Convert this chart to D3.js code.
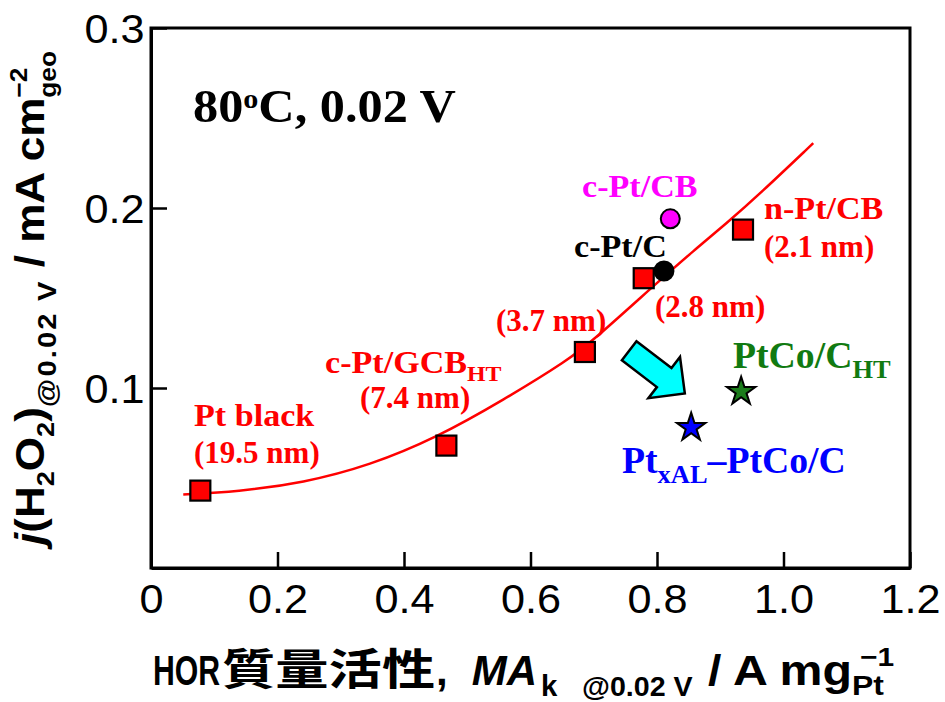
<!DOCTYPE html>
<html>
<head>
<meta charset="utf-8">
<title>H2O2 vs HOR mass activity</title>
<script src="https://d3js.org/d3.v7.min.js"></script>
<style>
  body { margin: 0; background: #fff; }
</style>
</head>
<body>
<div id="chart"></div>
<script>
// squares on the fitted curve (Pt catalysts with particle size)
var sqNames = ["Pt black", "c-Pt/GCB_HT", "3.7 nm", "2.8 nm", "n-Pt/CB"];
var sqMA    = [0.078, 0.467, 0.686, 0.779, 0.936];
var sqH2O2  = [0.043, 0.068, 0.120, 0.161, 0.188];

// circles
var circNames  = ["c-Pt/CB", "c-Pt/C"];
var circMA     = [0.821, 0.811];
var circH2O2   = [0.194, 0.165];
var circColors = ["#ff00ff", "#000000"];

// stars
var starNames  = ["PtCo/C_HT", "Pt_xAL-PtCo/C"];
var starMA     = [0.933, 0.854];
var starH2O2   = [0.098, 0.078];
var starColors = ["#1b7d1b", "#0000ff"];

// red fitted line
var fitMA   = [0.051, 0.136, 0.241, 0.346, 0.452, 0.557, 0.660, 0.700, 0.805, 0.857, 0.910, 0.963, 1.047];
var fitH2O2 = [0.0409, 0.0424, 0.0473, 0.0570, 0.0725, 0.0933, 0.1156, 0.1267, 0.160, 0.176, 0.1915, 0.208, 0.236];

// cyan arrow: tail -> tip
var arrowMA   = [0.756, 0.844];
var arrowH2O2 = [0.1207, 0.097];

var xTicks = [0, 0.2, 0.4, 0.6, 0.8, 1.0, 1.2];
var yTicks = [0.1, 0.2, 0.3];

var W = 945, H = 702;
var pl = 151, pr = 910, pt = 28, pb = 568;
var SANS = "'Liberation Sans', Arial, Helvetica, sans-serif";
var SERIF = "'Liberation Serif', 'Times New Roman', Times, serif";
var CJK = "'Noto Sans CJK JP', 'Noto Sans CJK SC', sans-serif";
var RED = "#ff0000";

var svg = d3.select("#chart").append("svg")
  .attr("width", W).attr("height", H);

var x = d3.scaleLinear().domain([0, 1.2]).range([pl, pr]);
var y = d3.scaleLinear().domain([0, 0.3]).range([pb, pt]);

// text helper with sub / superscripts, horizontal stretch sx
function richText(g, px, py, parts, o) {
  var tf = "translate(" + px + "," + py + ")";
  if (o.rotate) tf += " rotate(" + o.rotate + ")";
  tf += " scale(" + (o.sx || 1) + ",1)";
  var t = g.append("text")
    .attr("transform", tf)
    .attr("font-family", o.family || SERIF)
    .attr("font-weight", o.weight || "bold")
    .attr("font-size", o.size)
    .attr("fill", o.fill || "#000")
    .attr("text-anchor", o.anchor || "start");
  var shift = 0, prev = null;
  parts.forEach(function(p) {
    var fs = (p.sub || p.sup) ? o.size * (p.k || 0.62) : o.size;
    var target = p.sub ? o.size * (p.off || 0.25) : p.sup ? -o.size * (p.off || 0.42) : 0;
    var ts = t.append("tspan").text(p.t)
      .attr("font-size", fs)
      .attr("dy", target - shift);
    if (p.italic) ts.attr("font-style", "italic");
    if (p.family) ts.attr("font-family", p.family);
    if (p.ls) ts.attr("letter-spacing", p.ls);
    var ddx = (p.dx || 0) - (p.stack && prev ? prev.node().getComputedTextLength() : 0);
    if (ddx) ts.attr("dx", ddx);
    shift = target;
    prev = ts;
  });
  return t;
}

// frame
svg.append("rect")
  .attr("x", pl).attr("y", pt)
  .attr("width", pr - pl).attr("height", pb - pt)
  .attr("fill", "none").attr("stroke", "#000").attr("stroke-width", 3);

// axes with inward ticks
var xAxis = svg.append("g")
  .attr("transform", "translate(0," + pb + ")")
  .call(d3.axisBottom(x).tickValues(xTicks).tickSizeInner(-16).tickSizeOuter(0).tickPadding(17)
    .tickFormat(function(d) { return d === 0 ? "0" : d.toFixed(1); }));
var yAxis = svg.append("g")
  .attr("transform", "translate(" + pl + ",0)")
  .call(d3.axisLeft(y).tickValues(yTicks).tickSizeInner(-16).tickSizeOuter(0).tickPadding(6)
    .tickFormat(function(d) { return d.toFixed(1); }));

[xAxis, yAxis].forEach(function(a) {
  a.select(".domain").attr("stroke-width", 3);
  a.selectAll(".tick line").attr("stroke-width", 2.5);
  a.selectAll(".tick text")
    .attr("font-family", SANS).attr("font-size", 40).attr("fill", "#000")
    .attr("transform", "scale(1.08,1)");
});
yAxis.selectAll(".tick text").attr("dy", "0.36em");

// fitted curve
var fitPts = fitMA.map(function(d, i) { return [d, fitH2O2[i]]; });
svg.append("path")
  .datum(fitPts)
  .attr("fill", "none").attr("stroke", RED).attr("stroke-width", 2.5)
  .attr("d", d3.line().x(function(d) { return x(d[0]); }).y(function(d) { return y(d[1]); })
    .curve(d3.curveBasis));

// arrow built from tail/tip in data space
(function() {
  var x0 = x(arrowMA[0]), y0 = y(arrowH2O2[0]), x1 = x(arrowMA[1]), y1 = y(arrowH2O2[1]);
  var dx = x1 - x0, dy = y1 - y0, L = Math.sqrt(dx * dx + dy * dy);
  var ux = dx / L, uy = dy / L, nx = -uy, ny = ux;
  var sw = 12, hw = 26, hl = 26;
  function p(a, b) { return [x0 + ux * a + nx * b, y0 + uy * a + ny * b]; }
  var pts = [p(0, -sw), p(L - hl, -sw), p(L - hl, -hw), p(L, 0), p(L - hl, hw), p(L - hl, sw), p(0, sw)];
  svg.append("polygon")
    .attr("points", pts.map(function(q) { return q.join(","); }).join(" "))
    .attr("fill", "#00ffff").attr("stroke", "#000").attr("stroke-width", 2.5)
    .attr("stroke-linejoin", "miter");
})();

// squares
svg.selectAll(".sq")
  .data(sqMA.map(function(d, i) { return {x: d, y: sqH2O2[i], name: sqNames[i]}; }))
  .enter().append("rect")
  .attr("class", "sq")
  .attr("x", function(d) { return x(d.x) - 10; })
  .attr("y", function(d) { return y(d.y) - 10; })
  .attr("width", 20).attr("height", 20)
  .attr("fill", RED).attr("stroke", "#000").attr("stroke-width", 2.2);

// circles
svg.selectAll(".circ")
  .data(circMA.map(function(d, i) { return {x: d, y: circH2O2[i], c: circColors[i]}; }))
  .enter().append("circle")
  .attr("class", "circ")
  .attr("cx", function(d) { return x(d.x); })
  .attr("cy", function(d) { return y(d.y); })
  .attr("r", 9.5)
  .attr("fill", function(d) { return d.c; })
  .attr("stroke", "#000").attr("stroke-width", 2);

// stars
svg.selectAll(".star")
  .data(starMA.map(function(d, i) { return {x: d, y: starH2O2[i], c: starColors[i]}; }))
  .enter().append("path")
  .attr("class", "star")
  .attr("transform", function(d) { return "translate(" + x(d.x) + "," + y(d.y) + ")"; })
  .attr("d", d3.symbol().type(d3.symbolStar).size(250))
  .attr("fill", function(d) { return d.c; })
  .attr("stroke", "#000").attr("stroke-width", 2);

// annotations
var ann = svg.append("g");
var sx = 1.1;
richText(ann, 193, 122, [{t: "80"}, {t: "o", sup: 1, k: 0.6, off: 0.3}, {t: "C, 0.02 V"}], {size: 47, sx: 1.07});
richText(ann, 194, 426, [{t: "Pt black"}], {size: 31, sx: sx, fill: RED});
richText(ann, 194, 463, [{t: "(19.5 nm)"}], {size: 31, sx: 1.0, fill: RED});
richText(ann, 325, 373, [{t: "c-Pt/GCB"}, {t: "HT", sub: 1, k: 0.7, off: 0.27}], {size: 31, sx: sx, fill: RED});
richText(ann, 360, 408, [{t: "(7.4 nm)"}], {size: 31, sx: 1.0, fill: RED});
richText(ann, 496, 331, [{t: "(3.7 nm)"}], {size: 31, sx: 1.0, fill: RED});
richText(ann, 655, 317, [{t: "(2.8 nm)"}], {size: 31, sx: 1.0, fill: RED});
richText(ann, 574, 257, [{t: "c-Pt/C"}], {size: 31, sx: sx, fill: "#000"});
richText(ann, 582, 197, [{t: "c-Pt/CB"}], {size: 31, sx: sx, fill: "#ff00ff"});
richText(ann, 764, 219, [{t: "n-Pt/CB"}], {size: 31, sx: sx, fill: RED});
richText(ann, 764, 257, [{t: "(2.1 nm)"}], {size: 31, sx: 1.0, fill: RED});
richText(ann, 733, 368, [{t: "PtCo/C"}, {t: "HT", sub: 1, k: 0.7, off: 0.27}], {size: 37, sx: 1.02, fill: "#117a11"});
richText(ann, 622, 473, [{t: "Pt"}, {t: "xAL", sub: 1, k: 0.7, off: 0.27}, {t: "\u2013PtCo/C"}], {size: 37, sx: 1.02, fill: "#0000ff"});

// y axis title
richText(svg, 44, 545, [
  {t: "j", italic: 1}, {t: "(H"}, {t: "2", sub: 1}, {t: "O"}, {t: "2", sub: 1}, {t: ")"},
  {t: "@0.02 V", sub: 1, k: 0.66, off: 0.3, ls: 2}, {t: " / mA cm"},
  {t: "geo", sub: 1, k: 0.6, off: 0.3}, {t: "\u22122", sup: 1, k: 0.6, off: 0.42, stack: 1}
], {size: 40, sx: 1.1, family: SANS, rotate: -90});

// x axis title in pieces: narrow "HOR", wide CJK, the rest
var xt = svg.append("g");
var xtBase = 685;
richText(xt, 153, xtBase, [{t: "HOR"}], {size: 42, sx: 0.72, family: SANS});
richText(xt, 222, xtBase, [{t: "質量活性"}], {size: 43, sx: 1.24, family: CJK});
richText(xt, 436, xtBase, [{t: ","}, {t: "MA", italic: 1, dx: 24}, {t: "k", sub: 1, k: 0.7, off: 0.25, dx: 4}],
  {size: 42, sx: 1.0, family: SANS});
richText(xt, 582, xtBase + 11, [{t: "@0.02 V"}], {size: 27, sx: 1.06, family: SANS});
richText(xt, 708, xtBase, [{t: "/ A mg"}, {t: "Pt", sub: 1, k: 0.66, off: 0.24},
  {t: "\u22121", sup: 1, k: 0.62, off: 0.45, stack: 1, dx: 7}], {size: 42, sx: 1.15, family: SANS});
</script>
</body>
</html>
